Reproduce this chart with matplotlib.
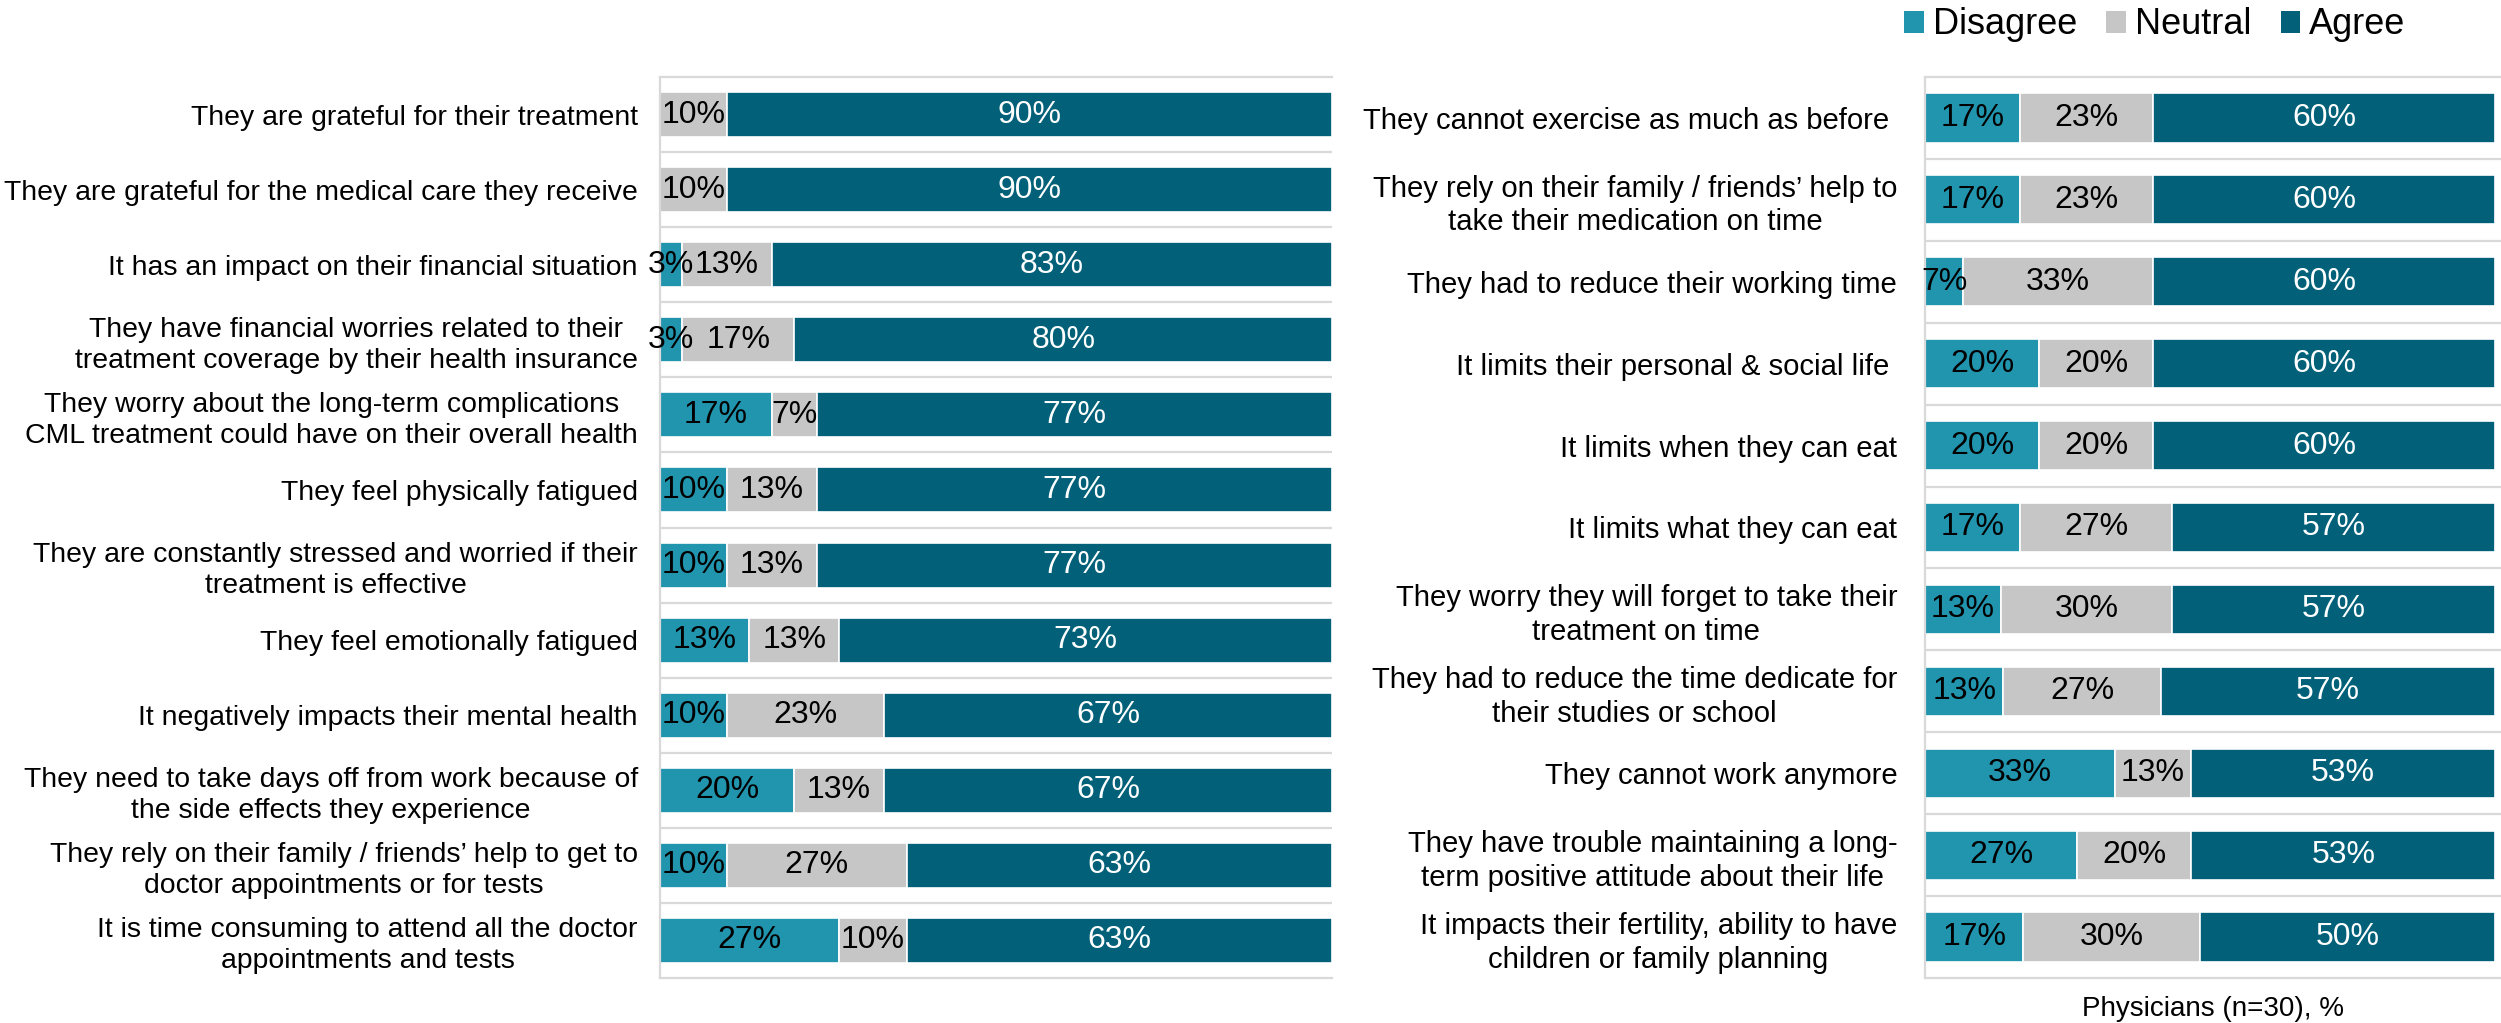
import matplotlib.pyplot as plt
from matplotlib.patches import Patch

plt.rcParams['font.family'] = ['Liberation Sans', 'DejaVu Sans']

series_names = ['Disagree', 'Neutral', 'Agree']
colors = ['#2194AE', '#C6C6C6', '#026179']
text_colors = ['black', 'black', 'white']

left_labels = [
    'They are grateful for their treatment',
    'They are grateful for the medical care they receive',
    'It has an impact on their financial situation',
    'They have financial worries related to their\ntreatment coverage by their health insurance',
    'They worry about the long-term complications\nCML treatment could have on their overall health',
    'They feel physically fatigued',
    'They are constantly stressed and worried if their\ntreatment is effective',
    'They feel emotionally fatigued',
    'It negatively impacts their mental health',
    'They need to take days off from work because of\nthe side effects they experience',
    'They rely on their family / friends\u2019 help to get to\ndoctor appointments or for tests',
    'It is time consuming to attend all the doctor\nappointments and tests',
]
left_disagree = [0, 0, 3.3, 3.3, 16.7, 10, 10, 13.3, 10, 20, 10, 26.7]
left_neutral = [10, 10, 13.3, 16.7, 6.7, 13.3, 13.3, 13.3, 23.3, 13.3, 26.7, 10]
left_agree = [90, 90, 83.3, 80, 76.7, 76.7, 76.7, 73.3, 66.7, 66.7, 63.3, 63.3]

right_labels = [
    'They cannot exercise as much as before ',
    'They rely on their family / friends\u2019 help to\ntake their medication on time',
    'They had to reduce their working time',
    'It limits their personal & social life ',
    'It limits when they can eat',
    'It limits what they can eat',
    'They worry they will forget to take their\ntreatment on time',
    'They had to reduce the time dedicate for\ntheir studies or school',
    'They cannot work anymore',
    'They have trouble maintaining a long-\nterm positive attitude about their life',
    'It impacts their fertility, ability to have\nchildren or family planning',
]
right_disagree = [16.7, 16.7, 6.7, 20, 20, 16.7, 13.3, 13.3, 33.3, 26.7, 16.7]
right_neutral = [23.3, 23.3, 33.3, 20, 20, 26.7, 30, 26.7, 13.3, 20, 30]
right_agree = [60, 60, 60, 60, 60, 56.7, 56.7, 56.7, 53.3, 53.3, 50]

W, H = 2501, 1023
grid_col = '#D9D9D9'


def draw_panel(ax, labels, dis, neu, agr, xmax, label_size, pad):
    n = len(labels)
    ypos = list(range(n))
    left = [0.0] * n
    totals = [d + m + a for d, m, a in zip(dis, neu, agr)]
    for k, vals in enumerate([dis, neu, agr]):
        # 100% stacked: each row is scaled to the full width
        widths = [v / t * 100 for v, t in zip(vals, totals)]
        ax.barh(ypos, widths, left=left, height=0.6, color=colors[k],
                edgecolor='white', linewidth=1.2, zorder=2)
        for i in range(n):
            if vals[i] > 0:
                ax.text(left[i] + widths[i] / 2, i, f'{vals[i]:.0f}%',
                        ha='center', va='center', fontsize=23,
                        color=text_colors[k], zorder=3)
        left = [l + w for l, w in zip(left, widths)]

    ax.set_xlim(0, xmax)
    ax.set_ylim(n - 0.5, -0.5)
    for k in range(1, n):
        ax.axhline(k - 0.5, color=grid_col, lw=1.6, zorder=0)
    for s in ['top', 'bottom', 'left']:
        ax.spines[s].set_color(grid_col)
        ax.spines[s].set_linewidth(1.6)
    ax.spines['right'].set_visible(False)
    ax.set_xticks([])
    ax.set_yticks(ypos)
    ax.set_yticklabels(labels, fontsize=label_size, linespacing=1.25)
    for t in ax.get_yticklabels():
        t.set_multialignment('center')
    ax.tick_params(axis='y', length=0, pad=pad)


fig = plt.figure(figsize=(W / 100, H / 100), dpi=100)

ax1 = fig.add_axes([660 / W, 45 / H, 672 / W, 901 / H])
draw_panel(ax1, left_labels, left_disagree, left_neutral, left_agree,
           100, 20.4, 16)

ax2 = fig.add_axes([1925 / W, 45 / H, 576 / W, 901 / H])
draw_panel(ax2, right_labels, right_disagree, right_neutral, right_agree,
           101, 21.1, 20)
ax2.set_xlabel('Physicians (n=30), %', fontsize=20, labelpad=13)

handles = [Patch(facecolor=c, edgecolor='none') for c in colors]
fig.legend(handles, series_names, loc='center',
           bbox_to_anchor=(2155 / W, 1 - 25 / H), ncol=3, frameon=False,
           fontsize=26, handlelength=0.55, handleheight=0.55,
           handletextpad=0.25, columnspacing=0.8, borderpad=0)

fig.savefig('out.png', dpi=100)
